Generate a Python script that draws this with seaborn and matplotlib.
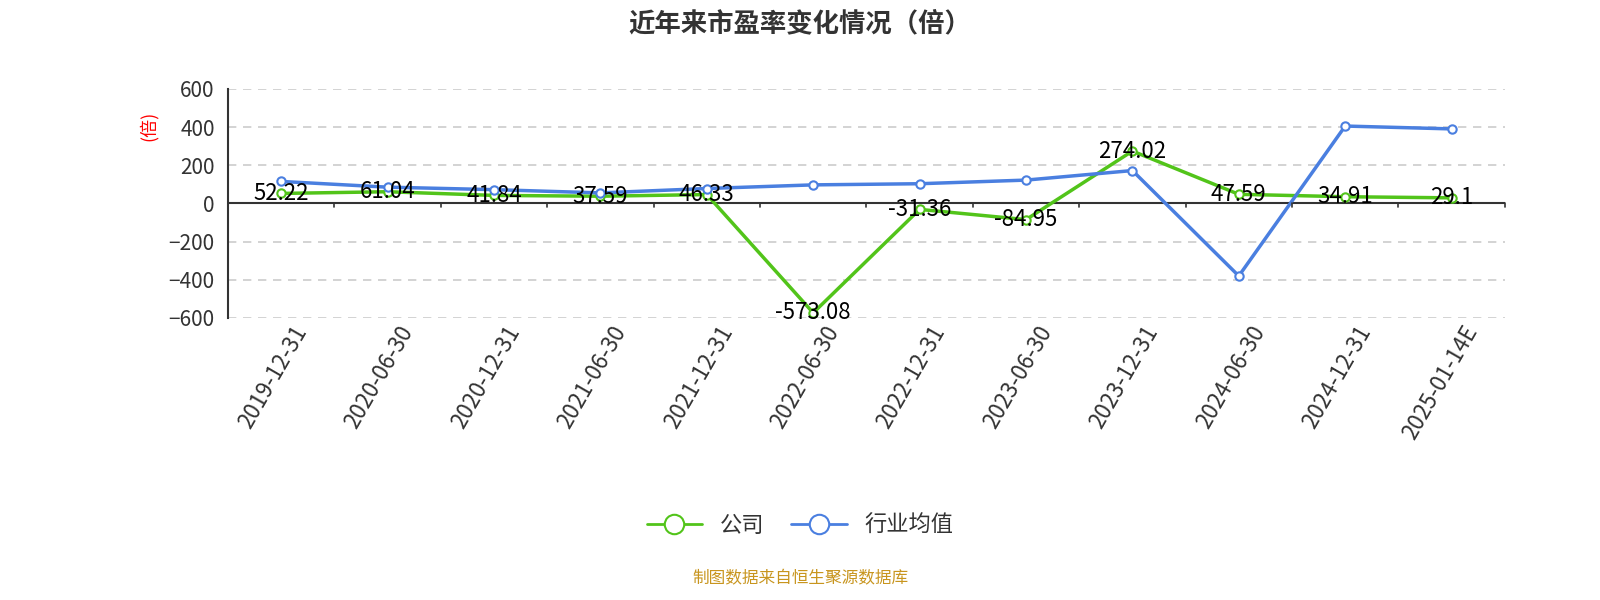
import matplotlib.pyplot as plt
import seaborn as sns
import pandas as pd
from matplotlib.lines import Line2D

dates = ["2019-12-31", "2020-06-30", "2020-12-31", "2021-06-30", "2021-12-31", "2022-06-30",
         "2022-12-31", "2023-06-30", "2023-12-31", "2024-06-30", "2024-12-31", "2025-01-14E"]
company = [52.22, 61.04, 41.84, 37.59, 46.33, -573.08, -31.36, -84.95, 274.02, 47.59, 34.91, 29.1]
industry = [115, 85, 72, 55, 78, 97, 103, 122, 172, -380, 405, 390]

sns.set_style("white")
plt.rcParams["font.family"] = ["Noto Sans CJK SC", "DejaVu Sans"]

GREEN = "#52c41a"
BLUE = "#4a7fe0"

df = pd.DataFrame({"x": range(len(dates)), "公司": company, "行业均值": industry})

fig = plt.figure(figsize=(16, 6), dpi=100)
ax = fig.add_axes([0.1425, 0.47, 0.798, 0.382])

for col, color in [("公司", GREEN), ("行业均值", BLUE)]:
    sns.lineplot(data=df, x="x", y=col, ax=ax, color=color, lw=2.5, marker="o",
                 markersize=6, markerfacecolor="white", markeredgecolor=color,
                 markeredgewidth=1.5)

for i, v in enumerate(company):
    ax.text(i, v, f"{v:g}", ha="center", va="center", fontsize=16, color="black", zorder=5)

ax.set_xlim(-0.5, len(dates) - 0.5)
ax.set_ylim(-600, 600)
ax.set_yticks(range(-600, 601, 200))
ax.tick_params(axis="y", labelsize=15, colors="#333333", length=6)
ax.yaxis.grid(True, ls=(0, (5, 4)), color="#cccccc", lw=1.2)
ax.set_axisbelow(True)

for s in ["top", "right", "bottom"]:
    ax.spines[s].set_visible(False)
ax.spines["left"].set_color("#333333")
ax.spines["left"].set_linewidth(1.5)
ax.axhline(0, color="#333333", lw=1.5, zorder=1)
for b in [i - 0.5 for i in range(len(dates) + 1)]:
    ax.plot([b, b], [0, -20], color="#333333", lw=1.2, clip_on=False)

ax.set_xticks(range(len(dates)))
ax.set_xticklabels([])
ax.tick_params(axis="x", length=0)
for i, d in enumerate(dates):
    ax.text(i + 0.1, -620, d, rotation=60, ha="right", va="top", fontsize=16,
            color="#333333", rotation_mode="anchor")
ax.set_xlabel("")
ax.set_ylabel("(倍)", color="red", fontsize=13)
ax.yaxis.set_label_coords(-0.055, 0.84)

fig.text(0.5, 0.96, "近年来市盈率变化情况（倍）", ha="center", va="center",
         fontsize=19, fontweight="bold", color="#333333")

handles = [Line2D([], [], color=c, lw=2, marker="o", markersize=14,
                  markerfacecolor="white", markeredgecolor=c, markeredgewidth=1.5)
           for c in (GREEN, BLUE)]
fig.legend(handles, ["公司", "行业均值"], loc="center", bbox_to_anchor=(0.5, 0.125),
           ncol=2, frameon=False, fontsize=16, handlelength=2.5, columnspacing=1.2,
           labelcolor="#333333")

fig.text(0.5, 0.035, "制图数据来自恒生聚源数据库", ha="center", va="center",
         fontsize=12, color="#c8951e")

fig.savefig("out.png", dpi=100)
